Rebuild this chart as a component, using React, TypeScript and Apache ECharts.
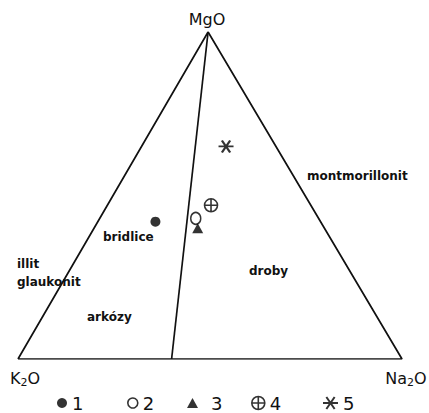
import React, { useEffect, useRef } from "react";
import * as echarts from "echarts";

// Ternary compositions (MgO, K2O, Na2O) in %
const sampleNames = ["1", "2", "3", "4", "5"];
const mgO = [42, 43, 40, 47, 65];
const k2O = [43, 32, 33, 26, 13];
const na2O = [15, 25, 27, 27, 22];

// Boundary between "bridlice/arkózy" and "droby" fields: from MgO apex to the K2O–Na2O side
const dividerMgO = [100, 0];
const dividerK2O = [0, 60];
const dividerNa2O = [0, 40];

// Horizontal position of the MgO apex relative to the K2O–Na2O base (0..1)
const APEX_X = 0.495;

function project(mg: number, k: number, na: number): [number, number] {
  const t = mg + k + na;
  return [(na + APEX_X * mg) / t, mg / t];
}

const ASTERISK = "path://M0,10L20,10M4.5,2L15.5,18M4.5,18L15.5,2";
const CIRCLE_PLUS = "path://M0,10A10,10,0,1,1,20,10A10,10,0,1,1,0,10ZM10,0L10,20M0,10L20,10";

const FONT = "'DejaVu Sans', sans-serif";

export default function App() {
  const ref = useRef<HTMLDivElement>(null);
  useEffect(() => {
    if (!ref.current) return;
    const chart = echarts.init(ref.current, undefined, { renderer: "svg" });

    const triangle = [project(0, 100, 0), project(0, 0, 100), project(100, 0, 0), project(0, 100, 0)];
    const divider = dividerMgO.map((m, i) => project(m, dividerK2O[i], dividerNa2O[i]));
    const pts = sampleNames.map((_, i) => project(mgO[i], k2O[i], na2O[i]));

    const symbols: any[] = [
      { symbol: "circle", size: [10, 10], style: { color: "#000" } },
      { symbol: "circle", size: [10, 12], style: { color: "#fff", borderColor: "#000", borderWidth: 1.6 } },
      { symbol: "triangle", size: [11, 10], style: { color: "#000" } },
      { symbol: CIRCLE_PLUS, size: [13, 13], style: { color: "transparent", borderColor: "#000", borderWidth: 1.6 } },
      { symbol: ASTERISK, size: [15, 12], style: { color: "transparent", borderColor: "#000", borderWidth: 2 } },
    ];

    const legendLefts = [57, 127, 187, 251, 322];
    const legendTextGap = [0, 0, 8, 0, 0];

    const text = (t: string, x: number, y: number, size = 12, extra: any = {}) => ({
      type: "text",
      x,
      y,
      style: {
        text: t,
        fill: "#111",
        font: `bold ${size}px ${FONT}`,
        textAlign: "left",
        textVerticalAlign: "middle",
        ...extra,
      },
    });

    const subRich = {
      a: { fontSize: 16, fontFamily: FONT, fill: "#111" },
      s: { fontSize: 11, fontFamily: FONT, fill: "#111", padding: [8, 0, 0, 0] },
    };

    chart.setOption({
      animation: false,
      backgroundColor: "#fff",
      grid: { left: 18, right: 27, top: 32, bottom: 54 },
      xAxis: { type: "value", min: 0, max: 1, show: false },
      yAxis: { type: "value", min: 0, max: 1, show: false },
      legend: sampleNames.map((n, i) => ({
        left: legendLefts[i],
        top: 394,
        padding: 0,
        itemWidth: symbols[i].size[0],
        itemHeight: symbols[i].size[1],
        itemGap: 0,
        textStyle: { fontSize: 18, fontFamily: FONT, color: "#111", padding: [0, 0, 0, legendTextGap[i]] },
        data: [{ name: n, icon: symbols[i].symbol, itemStyle: symbols[i].style }],
      })),
      series: [
        {
          type: "line",
          data: triangle,
          symbol: "none",
          silent: true,
          lineStyle: { color: "#111", width: 1.7 },
        },
        {
          type: "line",
          data: divider,
          symbol: "none",
          silent: true,
          lineStyle: { color: "#111", width: 1.7 },
        },
        ...sampleNames.map((n, i) => ({
          type: "scatter",
          name: n,
          data: [pts[i]],
          symbol: symbols[i].symbol,
          symbolSize: symbols[i].size,
          itemStyle: symbols[i].style,
          z: 5,
        })),
      ],
      graphic: [
        {
          type: "text",
          x: 207,
          y: 19,
          style: { text: "MgO", font: `16px ${FONT}`, fill: "#111", textAlign: "center", textVerticalAlign: "middle" },
        },
        {
          type: "text",
          x: 25,
          y: 378,
          style: { text: "{a|K}{s|2}{a|O}", rich: subRich, textAlign: "center", textVerticalAlign: "middle" },
        },
        {
          type: "text",
          x: 406,
          y: 378,
          style: { text: "{a|Na}{s|2}{a|O}", rich: subRich, textAlign: "center", textVerticalAlign: "middle" },
        },
        text("montmorillonit", 307, 176),
        text("bridlice", 103, 237),
        text("illit", 17, 264),
        text("glaukonit", 17, 282),
        text("droby", 249, 271),
        text("arkózy", 87, 317),
      ],
    });
    return () => chart.dispose();
  }, []);
  return <div ref={ref} style={{ width: 429, height: 413, position: "absolute", left: 0, top: 0 }} />;
}
